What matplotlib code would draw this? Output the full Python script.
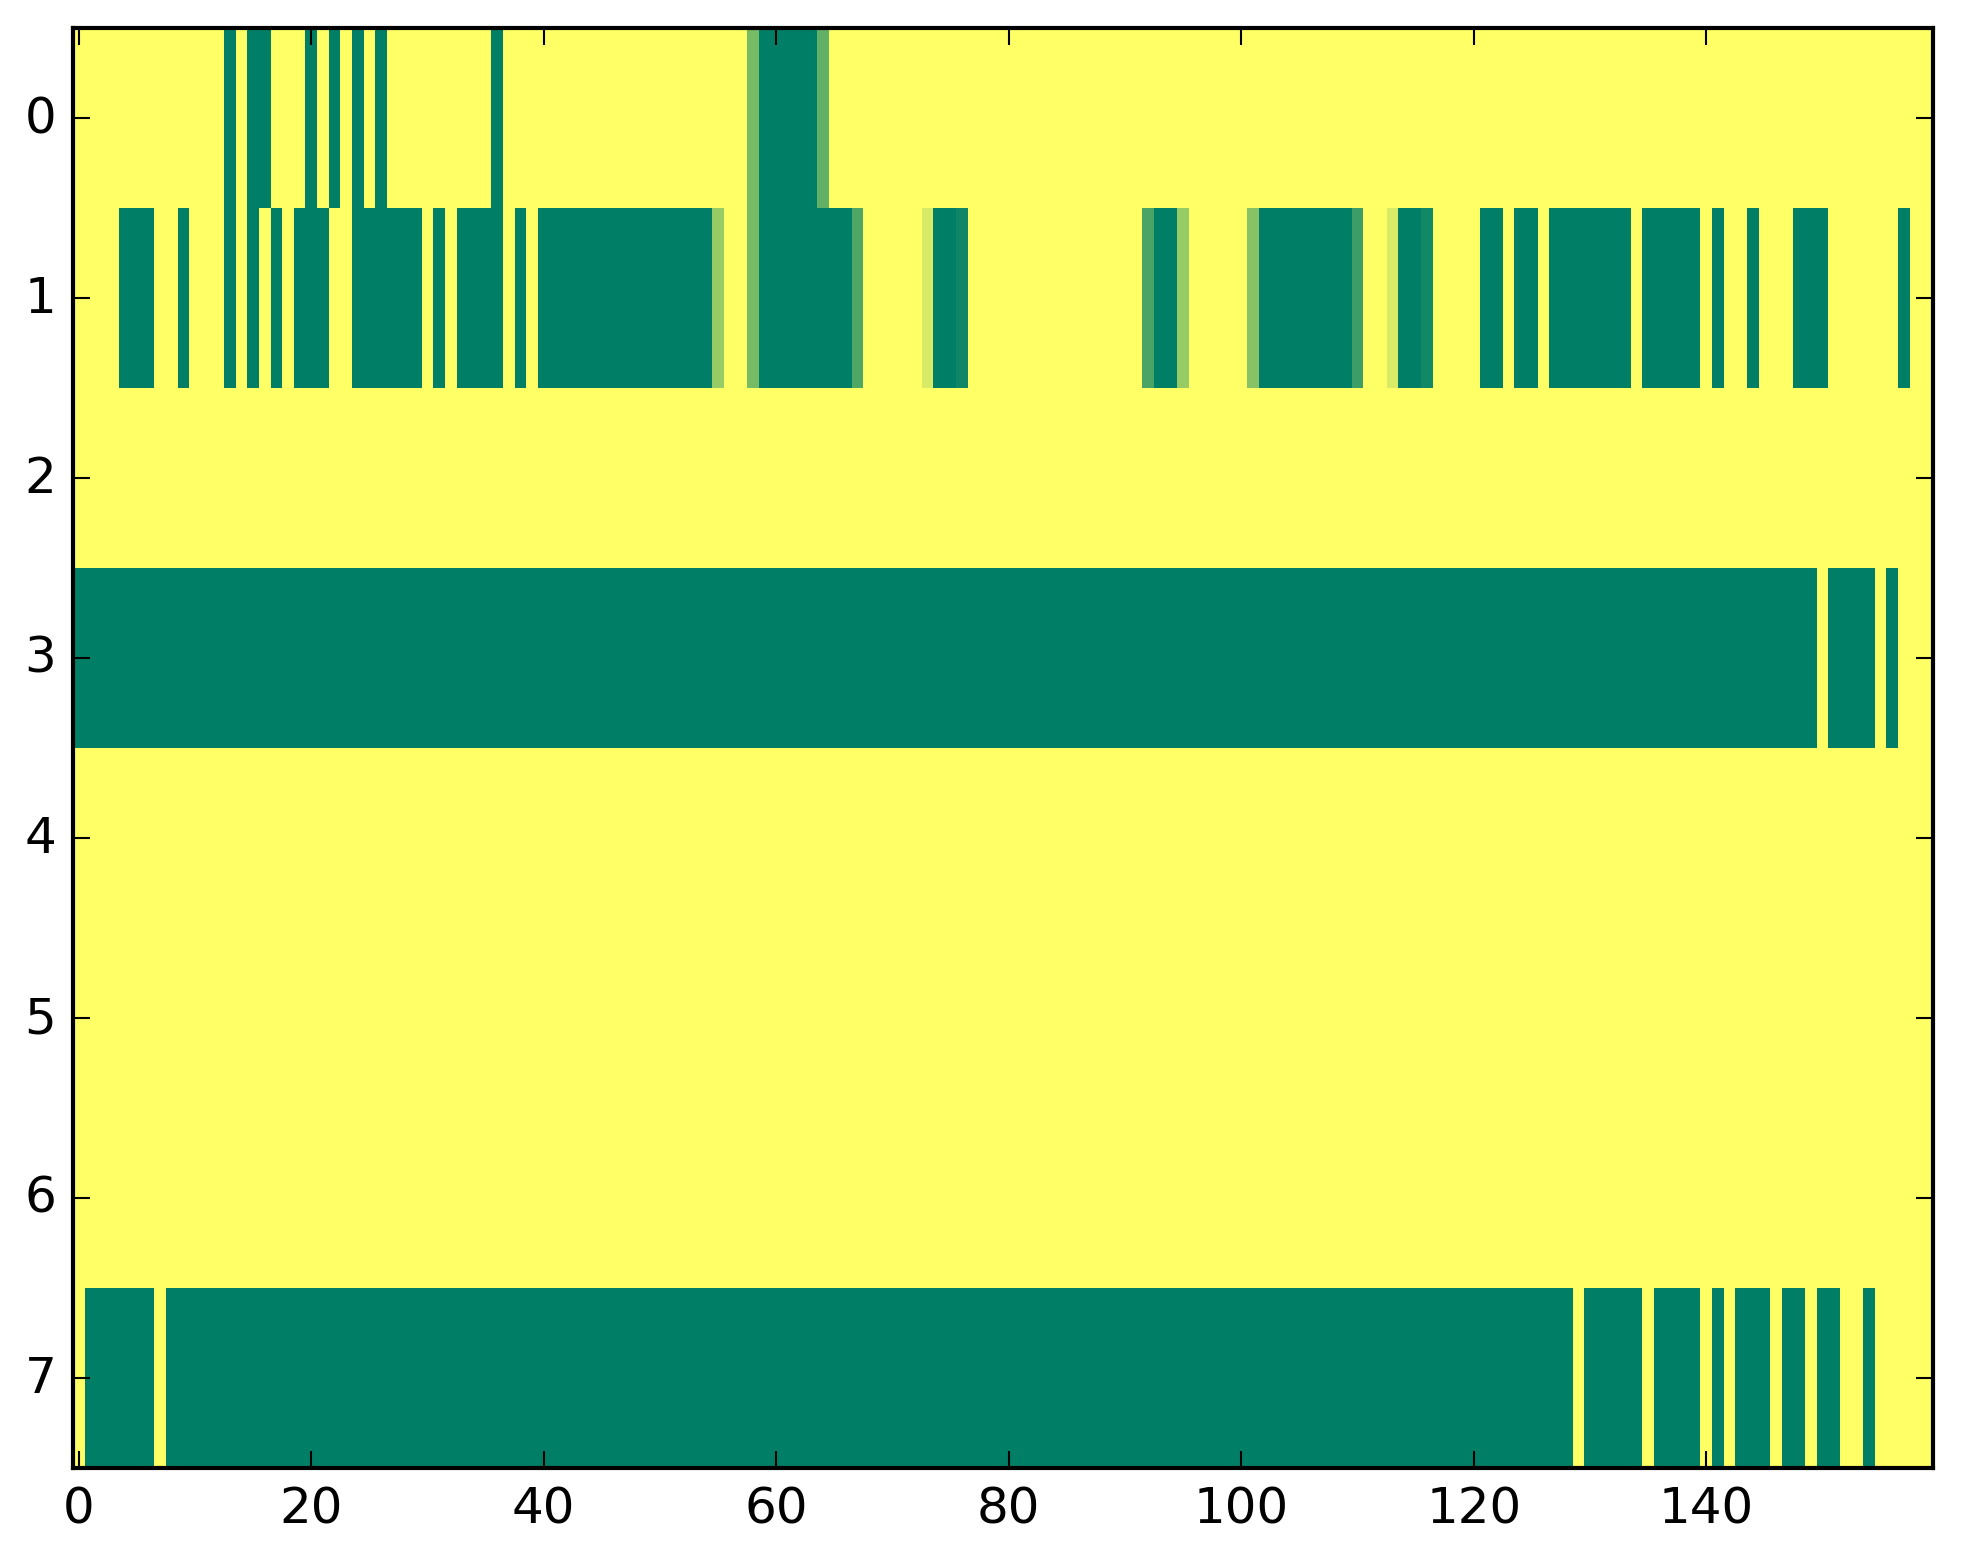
import numpy as np
import matplotlib
matplotlib.use("Agg")
import matplotlib.pyplot as plt

# cell values per row (1 = yellow end of "summer", 0 = green end), 160 columns
row0 = [
    1, 1, 1, 1, 1, 1, 1, 1, 1, 1, 1, 1, 1, 0, 1, 0, 0, 1, 1, 1,
    0, 1, 0, 1, 0, 1, 0, 1, 1, 1, 1, 1, 1, 1, 1, 1, 0, 1, 1, 1,
    1, 1, 1, 1, 1, 1, 1, 1, 1, 1, 1, 1, 1, 1, 1, 1, 1, 1, 0.47, 0,
    0, 0, 0, 0, 0.38, 1, 1, 1, 1, 1, 1, 1, 1, 1, 1, 1, 1, 1, 1, 1,
    1, 1, 1, 1, 1, 1, 1, 1, 1, 1, 1, 1, 1, 1, 1, 1, 1, 1, 1, 1,
    1, 1, 1, 1, 1, 1, 1, 1, 1, 1, 1, 1, 1, 1, 1, 1, 1, 1, 1, 1,
    1, 1, 1, 1, 1, 1, 1, 1, 1, 1, 1, 1, 1, 1, 1, 1, 1, 1, 1, 1,
    1, 1, 1, 1, 1, 1, 1, 1, 1, 1, 1, 1, 1, 1, 1, 1, 1, 1, 1, 1,
]
row1 = [
    1, 1, 1, 1, 0, 0, 0, 1, 1, 0, 1, 1, 1, 0, 1, 0, 1, 0, 1, 0,
    0, 0, 1, 1, 0, 0, 0, 0, 0, 0, 1, 0, 1, 0, 0, 0, 0, 1, 0, 1,
    0, 0, 0, 0, 0, 0, 0, 0, 0, 0, 0, 0, 0, 0, 0, 0.59, 1, 1, 0.47, 0,
    0, 0, 0, 0, 0, 0, 0, 0.31, 1, 1, 1, 1, 1, 0.84, 0, 0, 0.06, 1, 1, 1,
    1, 1, 1, 1, 1, 1, 1, 1, 1, 1, 1, 1, 0.29, 0, 0, 0.59, 1, 1, 1, 1,
    1, 0.53, 0, 0, 0, 0, 0, 0, 0, 0, 0.24, 1, 1, 0.84, 0, 0, 0.07, 1, 1, 1,
    1, 0, 0, 1, 0, 0, 1, 0, 0, 0, 0, 0, 0, 0, 1, 0, 0, 0, 0, 0,
    1, 0, 1, 1, 0, 1, 1, 1, 0, 0, 0, 1, 1, 1, 1, 1, 1, 0, 1, 1,
]
row2 = [
    1, 1, 1, 1, 1, 1, 1, 1, 1, 1, 1, 1, 1, 1, 1, 1, 1, 1, 1, 1,
    1, 1, 1, 1, 1, 1, 1, 1, 1, 1, 1, 1, 1, 1, 1, 1, 1, 1, 1, 1,
    1, 1, 1, 1, 1, 1, 1, 1, 1, 1, 1, 1, 1, 1, 1, 1, 1, 1, 1, 1,
    1, 1, 1, 1, 1, 1, 1, 1, 1, 1, 1, 1, 1, 1, 1, 1, 1, 1, 1, 1,
    1, 1, 1, 1, 1, 1, 1, 1, 1, 1, 1, 1, 1, 1, 1, 1, 1, 1, 1, 1,
    1, 1, 1, 1, 1, 1, 1, 1, 1, 1, 1, 1, 1, 1, 1, 1, 1, 1, 1, 1,
    1, 1, 1, 1, 1, 1, 1, 1, 1, 1, 1, 1, 1, 1, 1, 1, 1, 1, 1, 1,
    1, 1, 1, 1, 1, 1, 1, 1, 1, 1, 1, 1, 1, 1, 1, 1, 1, 1, 1, 1,
]
row3 = [
    0, 0, 0, 0, 0, 0, 0, 0, 0, 0, 0, 0, 0, 0, 0, 0, 0, 0, 0, 0,
    0, 0, 0, 0, 0, 0, 0, 0, 0, 0, 0, 0, 0, 0, 0, 0, 0, 0, 0, 0,
    0, 0, 0, 0, 0, 0, 0, 0, 0, 0, 0, 0, 0, 0, 0, 0, 0, 0, 0, 0,
    0, 0, 0, 0, 0, 0, 0, 0, 0, 0, 0, 0, 0, 0, 0, 0, 0, 0, 0, 0,
    0, 0, 0, 0, 0, 0, 0, 0, 0, 0, 0, 0, 0, 0, 0, 0, 0, 0, 0, 0,
    0, 0, 0, 0, 0, 0, 0, 0, 0, 0, 0, 0, 0, 0, 0, 0, 0, 0, 0, 0,
    0, 0, 0, 0, 0, 0, 0, 0, 0, 0, 0, 0, 0, 0, 0, 0, 0, 0, 0, 0,
    0, 0, 0, 0, 0, 0, 0, 0, 0, 0, 1, 0, 0, 0, 0, 1, 0, 1, 1, 1,
]
row4 = list(row2)
row5 = list(row2)
row6 = list(row2)
row7 = [
    1, 0, 0, 0, 0, 0, 0, 1, 0, 0, 0, 0, 0, 0, 0, 0, 0, 0, 0, 0,
    0, 0, 0, 0, 0, 0, 0, 0, 0, 0, 0, 0, 0, 0, 0, 0, 0, 0, 0, 0,
    0, 0, 0, 0, 0, 0, 0, 0, 0, 0, 0, 0, 0, 0, 0, 0, 0, 0, 0, 0,
    0, 0, 0, 0, 0, 0, 0, 0, 0, 0, 0, 0, 0, 0, 0, 0, 0, 0, 0, 0,
    0, 0, 0, 0, 0, 0, 0, 0, 0, 0, 0, 0, 0, 0, 0, 0, 0, 0, 0, 0,
    0, 0, 0, 0, 0, 0, 0, 0, 0, 0, 0, 0, 0, 0, 0, 0, 0, 0, 0, 0,
    0, 0, 0, 0, 0, 0, 0, 0, 0, 1, 0, 0, 0, 0, 0, 1, 0, 0, 0, 0,
    1, 0, 1, 0, 0, 0, 1, 0, 0, 1, 0, 0, 1, 1, 0, 1, 1, 1, 1, 1,
]

xticks = [0, 20, 40, 60, 80, 100, 120, 140]
yticks = [0, 1, 2, 3, 4, 5, 6, 7]

plt.style.use("classic")

data = np.array([row0, row1, row2, row3, row4, row5, row6, row7], dtype=float)

fig = plt.figure(figsize=(1963 / 300, 1564 / 300), dpi=300)
ax = fig.add_axes([73 / 1963, 95 / 1564, 1860 / 1963, 1440 / 1564])

ax.imshow(data, cmap="summer", vmin=0, vmax=1, aspect="auto",
          interpolation="nearest")
ax.set_xticks(xticks)
ax.set_yticks(yticks)
ax.set_xlim(-0.5, data.shape[1] - 0.5)
ax.set_ylim(data.shape[0] - 0.5, -0.5)

fig.savefig("out.png", dpi=300)
